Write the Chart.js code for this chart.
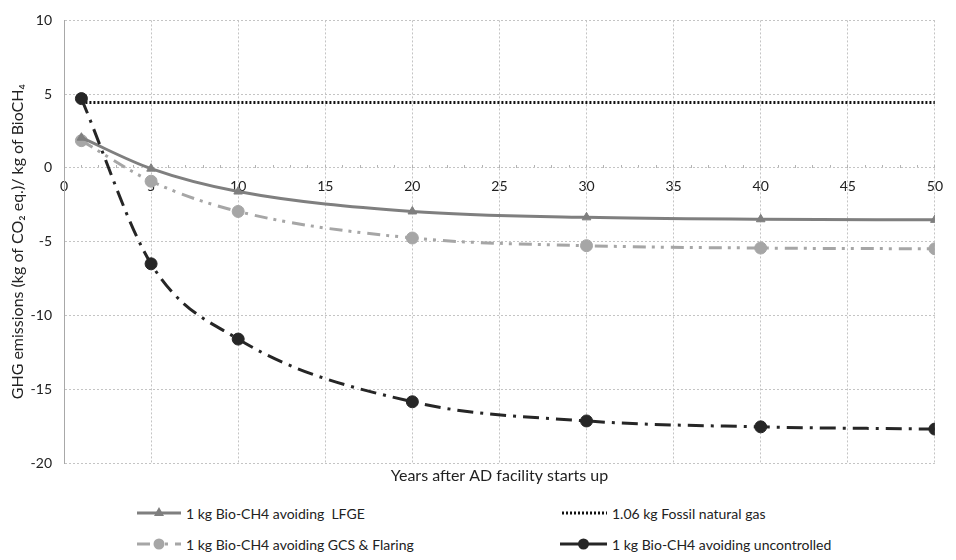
<!DOCTYPE html>
<html><head><meta charset="utf-8">
<script src="https://cdn.jsdelivr.net/npm/chart.js@4.4.1/dist/chart.umd.min.js"></script>
<style>
html,body{margin:0;padding:0;background:#fff;}
#wrap{position:relative;width:956px;height:560px;font-family:Lato, sans-serif;overflow:hidden;}
#box{position:absolute;left:0;top:0;width:956px;height:490px;}
.leg{position:absolute;height:20px;display:flex;align-items:center;font-size:14px;color:#222;white-space:pre;}
.leg svg{position:absolute;top:0;}
</style></head><body>
<div id="wrap"><div id="box"><canvas id="cv"></canvas></div><div id="legend"></div></div>
<script>
// ---- data ----
const years = [1, 5, 10, 20, 30, 40, 50];
const lfge = [2.05, -0.05, -1.6, -2.95, -3.35, -3.48, -3.52];
const gcsFlaring = [1.85, -0.9, -2.95, -4.75, -5.27, -5.43, -5.48];
const uncontrolled = [4.7, -6.5, -11.6, -15.85, -17.15, -17.55, -17.7];
const fossilGas = [4.43, 4.43, 4.43, 4.43, 4.43, 4.43, 4.43];
const seriesNames = [
  '1 kg Bio-CH4 avoiding  LFGE',
  '1.06 kg Fossil natural gas',
  '1 kg Bio-CH4 avoiding GCS & Flaring',
  '1 kg Bio-CH4 avoiding uncontrolled'
];
const xAxisTitle = 'Years after AD facility starts up';
const yAxisTitle = 'GHG emissions (kg of CO\u2082 eq.)/ kg of BioCH\u2084';
const xRange = [0, 50];
const yRange = [-20, 10];

const FONT = 'Lato';
const pts = vals => years.map((x, i) => ({x: x, y: vals[i]}));

const styles = {
  lfge: {color: '#7f7f7f', dash: [], marker: 'triangle', r: 5},
  fossil: {color: '#111111', dash: [2, 2], marker: false, r: 0},
  gcs: {color: '#a6a6a6', dash: [13, 6, 3, 6, 3, 7], marker: 'circle', r: 6},
  unc: {color: '#262626', dash: [16, 7, 3, 7], marker: 'circle', r: 6}
};

function ds(label, vals, st, order, smooth) {
  return {
    label: label, data: pts(vals), xAxisID: 'x', yAxisID: 'y',
    borderColor: st.color, backgroundColor: st.color, borderWidth: 3,
    borderDash: st.dash, borderCapStyle: 'butt',
    pointStyle: st.marker || 'circle', pointRadius: st.r, pointHoverRadius: st.r,
    pointBorderWidth: 1, pointBorderColor: st.color, pointBackgroundColor: st.color,
    cubicInterpolationMode: smooth ? 'monotone' : 'default', tension: 0,
    fill: false, order: order
  };
}

new Chart(document.getElementById('cv'), {
  type: 'line',
  data: {
    datasets: [
      ds(seriesNames[3], uncontrolled, styles.unc, 0, true),
      ds(seriesNames[1], fossilGas, styles.fossil, 1, false),
      ds(seriesNames[0], lfge, styles.lfge, 2, true),
      ds(seriesNames[2], gcsFlaring, styles.gcs, 3, true)
    ]
  },
  options: {
    responsive: true, maintainAspectRatio: false, animation: false, devicePixelRatio: 1,
    layout: {padding: {left: 3, right: 12, top: 18, bottom: 1}},
    plugins: {legend: {display: false}, tooltip: {enabled: false}},
    scales: {
      x: {
        type: 'linear', min: xRange[0], max: xRange[1], position: {y: 0},
        afterFit: s => { s.height = 0; },
        ticks: {stepSize: 1, autoSkip: false, maxRotation: 0, padding: 13,
          callback: v => (v % 5 === 0 ? String(v) : ''),
          font: {family: FONT, size: 14}, color: '#222'},
        grid: {color: c => (c.tick && c.tick.value % 5 === 0 ? '#c4c4c4' : 'rgba(0,0,0,0)'),
          lineWidth: 1, tickLength: -3, tickColor: '#b4b4b4', drawTicks: true},
        border: {display: false, dash: [2, 2]}
      },
      x2: {
        type: 'linear', min: xRange[0], max: xRange[1], position: 'bottom',
        afterFit: s => { s.height = 26; },
        ticks: {display: false},
        grid: {display: false, drawTicks: false},
        border: {display: false},
        title: {display: true, text: xAxisTitle, color: '#222',
          font: {family: FONT, size: 16}, padding: {top: 4, bottom: 4}}
      },
      y: {
        type: 'linear', min: yRange[0], max: yRange[1], position: 'left',
        afterFit: s => { s.width = 61; },
        ticks: {stepSize: 5, padding: 12, font: {family: FONT, size: 14}, color: '#222'},
        grid: {color: '#c4c4c4', lineWidth: 1, drawTicks: false},
        border: {display: true, color: '#a8a8a8', dash: [2, 2]},
        title: {display: true, text: yAxisTitle, color: '#222',
          font: {family: FONT, size: 16}, padding: {top: 5, bottom: 4}}
      }
    }
  }
});

// ---- HTML legend (2 x 2) ----
const legendItems = [
  {name: seriesNames[0], st: styles.lfge, sx: 137, tx: 186, cy: 513, solid: true},
  {name: seriesNames[1], st: styles.fossil, sx: 562, tx: 612, cy: 513, solid: false},
  {name: seriesNames[2], st: styles.gcs, sx: 137, tx: 186, cy: 544, solid: false},
  {name: seriesNames[3], st: styles.unc, sx: 560, tx: 612, cy: 544, solid: true}
];
const lg = document.getElementById('legend');
legendItems.forEach(it => {
  const w = it.tx - it.sx - 5;
  const dash = it.solid ? '' : `stroke-dasharray="${it.st.dash.join(' ')}"`;
  let marker = '';
  const c = w / 2;
  if (it.st.marker === 'triangle') {
    marker = `<polygon points="${c},4 ${c - 5},13 ${c + 5},13" fill="${it.st.color}"/>`;
  } else if (it.st.marker === 'circle') {
    marker = `<circle cx="${c}" cy="10" r="5.5" fill="${it.st.color}"/>`;
  }
  const svg = `<svg width="${w}" height="20" style="left:${it.sx}px;top:${it.cy - 10}px;position:absolute">
    <line x1="0" y1="10" x2="${w}" y2="10" stroke="${it.st.color}" stroke-width="3" ${dash}/>${marker}</svg>`;
  const holder = document.createElement('div');
  holder.innerHTML = svg + `<div class="leg" style="left:${it.tx}px;top:${it.cy - 10}px">${it.name.replace(/&/g, '&amp;')}</div>`;
  lg.appendChild(holder);
});
</script>
</body></html>
